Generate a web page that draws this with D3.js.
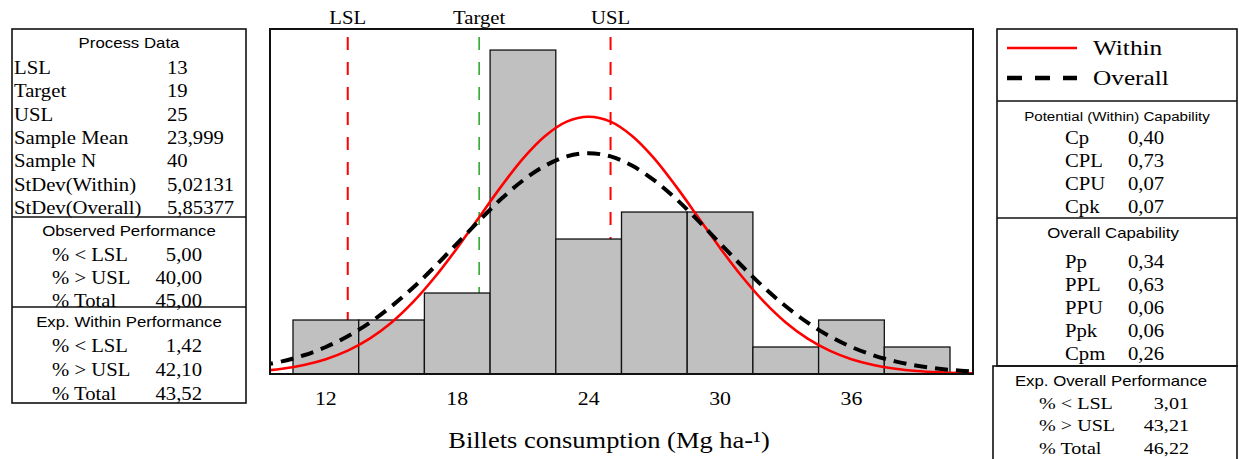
<!DOCTYPE html>
<html>
<head>
<meta charset="utf-8">
<script src="https://cdn.jsdelivr.net/npm/d3@7"></script>
<style>
  body { margin: 0; background: #fff; }
  .serif { font-family: "Liberation Serif", "Times New Roman", serif; fill: #000; }
  .sans { font-family: "Liberation Sans", Arial, sans-serif; fill: #000; }
</style>
</head>
<body>
<div id="chart"></div>
<script>
// histogram
const binEdges = [10.5, 13.5, 16.5, 19.5, 22.5, 25.5, 28.5, 31.5, 34.5, 37.5, 40.5];
const counts = [2, 2, 3, 12, 5, 6, 6, 1, 2, 1];
const xTicks = [12, 18, 24, 30, 36];

// spec limits
const specNames = ["LSL", "Target", "USL"];
const specValues = [13, 19, 25];
const specColors = ["#ff0000", "#33a833", "#ff0000"];

// fitted curves (counts per bin)
const curveX = [9, 10, 11, 12, 13, 14, 15, 16, 17, 18, 19, 20, 21, 22, 23, 24, 25,
  26, 27, 28, 29, 30, 31, 32, 33, 34, 35, 36, 37, 38, 39, 40, 41, 42];
const withinFit = [0.11, 0.195, 0.334, 0.548, 0.866, 1.31, 1.91, 2.68, 3.61, 4.67, 5.81,
  6.94, 7.98, 8.81, 9.35, 9.53, 9.35, 8.81, 7.98, 6.94, 5.81, 4.67, 3.61, 2.68, 1.91,
  1.31, 0.866, 0.548, 0.334, 0.195, 0.11, 0.06, 0.031, 0.015];
const overallFit = [0.307, 0.468, 0.694, 1.0, 1.4, 1.9, 2.51, 3.21, 4.0, 4.84, 5.68,
  6.48, 7.17, 7.71, 8.06, 8.18, 8.06, 7.71, 7.17, 6.48, 5.68, 4.84, 4.0, 3.21, 2.51,
  1.9, 1.4, 1.0, 0.694, 0.468, 0.307, 0.195, 0.12, 0.07];

// side tables
const processLabels = ["LSL", "Target", "USL", "Sample Mean", "Sample N", "StDev(Within)", "StDev(Overall)"];
const processValues = ["13", "19", "25", "23,999", "40", "5,02131", "5,85377"];
const perfLabels = ["% < LSL", "% > USL", "% Total"];
const observedValues = ["5,00", "40,00", "45,00"];
const expWithinValues = ["1,42", "42,10", "43,52"];
const expOverallValues = ["3,01", "43,21", "46,22"];
const withinCapLabels = ["Cp", "CPL", "CPU", "Cpk"];
const withinCapValues = ["0,40", "0,73", "0,07", "0,07"];
const overallCapLabels = ["Pp", "PPL", "PPU", "Ppk", "Cpm"];
const overallCapValues = ["0,34", "0,63", "0,06", "0,06", "0,26"];
const legendNames = ["Within", "Overall"];

const W = 1239, H = 459;
const plot = {left: 270, top: 29, right: 973, bottom: 374};
const stretch = 1.15;

const svg = d3.select("#chart").append("svg").attr("width", W).attr("height", H);

const x = d3.scaleLinear().domain([9.45, 41.55]).range([plot.left, plot.right]);
const y = d3.scaleLinear().domain([0, 12.78]).range([plot.bottom, plot.top]);

// text helper, glyphs are a bit wider than normal in the source
function txt(g, px, py, s, cls, size, anchor, sx) {
  return g.append("text")
    .attr("class", cls)
    .attr("transform", "translate(" + px + "," + py + ") scale(" + (sx || stretch) + ",1)")
    .attr("text-anchor", anchor || "start")
    .style("font-size", size + "px")
    .text(s);
}

svg.append("clipPath").attr("id", "clip").append("rect")
  .attr("x", plot.left).attr("y", plot.top)
  .attr("width", plot.right - plot.left).attr("height", plot.bottom - plot.top);

// spec lines (behind the bars)
const specG = svg.append("g");
specValues.forEach(function(v, i) {
  specG.append("line")
    .attr("x1", x(v)).attr("x2", x(v))
    .attr("y1", plot.top + 8).attr("y2", plot.bottom)
    .attr("stroke", specColors[i])
    .attr("stroke-width", i == 1 ? 1.6 : 2)
    .attr("stroke-dasharray", "13,12");
  txt(svg, x(v), 24, specNames[i], "serif", 18, "middle");
});

// bars
svg.append("g").selectAll("rect").data(counts).enter().append("rect")
  .attr("x", function(d, i) { return x(binEdges[i]); })
  .attr("width", function(d, i) { return x(binEdges[i + 1]) - x(binEdges[i]); })
  .attr("y", function(d) { return y(d); })
  .attr("height", function(d) { return y(0) - y(d); })
  .attr("fill", "#c0c0c0")
  .attr("stroke", "#111")
  .attr("stroke-width", 1.3);

// curves
const line = d3.line().x(function(d) { return x(d[0]); }).y(function(d) { return y(d[1]); })
  .curve(d3.curveCatmullRom);
const curves = svg.append("g").attr("clip-path", "url(#clip)");
curves.append("path")
  .attr("d", line(curveX.map(function(v, i) { return [v, withinFit[i]]; })))
  .attr("fill", "none").attr("stroke", "#ff0000").attr("stroke-width", 2.6);
curves.append("path")
  .attr("d", line(curveX.map(function(v, i) { return [v, overallFit[i]]; })))
  .attr("fill", "none").attr("stroke", "#000").attr("stroke-width", 4)
  .attr("stroke-dasharray", "13,8");

// frame
svg.append("rect")
  .attr("x", plot.left).attr("y", plot.top)
  .attr("width", plot.right - plot.left).attr("height", plot.bottom - plot.top)
  .attr("fill", "none").attr("stroke", "#111").attr("stroke-width", 2);

// x axis labels (no tick marks in the source)
xTicks.forEach(function(t) {
  txt(svg, x(t), 405, t, "serif", 19, "middle");
});
txt(svg, 609, 448, "Billets consumption (Mg ha-¹)", "serif", 23, "middle");

// left panel
const left = svg.append("g");
left.append("rect").attr("x", 12).attr("y", 29).attr("width", 234).attr("height", 374)
  .attr("fill", "none").attr("stroke", "#111").attr("stroke-width", 1.6);
[217, 307].forEach(function(yy) {
  left.append("line").attr("x1", 12).attr("x2", 246).attr("y1", yy).attr("y2", yy)
    .attr("stroke", "#111").attr("stroke-width", 1.6);
});
txt(left, 129, 48, "Process Data", "sans", 14, "middle", 1.2);
processLabels.forEach(function(s, i) {
  const yy = 74 + i * 23.3;
  txt(left, 14, yy, s, "serif", 18, "start");
  txt(left, 167, yy, processValues[i], "serif", 18, "start");
});
txt(left, 129, 236, "Observed Performance", "sans", 14, "middle", 1.2);
perfLabels.forEach(function(s, i) {
  const yy = 261 + i * 23.2;
  txt(left, 52, yy, s, "serif", 18, "start");
  txt(left, 202, yy, observedValues[i], "serif", 18, "end");
});
txt(left, 129, 327, "Exp. Within Performance", "sans", 14, "middle", 1.2);
perfLabels.forEach(function(s, i) {
  const yy = 352 + i * 23.8;
  txt(left, 52, yy, s, "serif", 18, "start");
  txt(left, 202, yy, expWithinValues[i], "serif", 18, "end");
});

// right panel
const right = svg.append("g");
right.append("rect").attr("x", 997).attr("y", 29).attr("width", 240).attr("height", 337)
  .attr("fill", "none").attr("stroke", "#111").attr("stroke-width", 1.6);
[101, 218].forEach(function(yy) {
  right.append("line").attr("x1", 997).attr("x2", 1237).attr("y1", yy).attr("y2", yy)
    .attr("stroke", "#111").attr("stroke-width", 1.6);
});
right.append("rect").attr("x", 993).attr("y", 366).attr("width", 244).attr("height", 100)
  .attr("fill", "none").attr("stroke", "#111").attr("stroke-width", 1.6);

// legend
right.append("line").attr("x1", 1007).attr("x2", 1077).attr("y1", 48).attr("y2", 48)
  .attr("stroke", "#ff0000").attr("stroke-width", 2.6);
right.append("line").attr("x1", 1007).attr("x2", 1077).attr("y1", 78).attr("y2", 78)
  .attr("stroke", "#000").attr("stroke-width", 4.5).attr("stroke-dasharray", "15,13");
txt(right, 1093, 55, legendNames[0], "serif", 22, "start");
txt(right, 1093, 85, legendNames[1], "serif", 22, "start");

txt(right, 1117, 121, "Potential (Within) Capability", "sans", 13.5, "middle", 1.12);
withinCapLabels.forEach(function(s, i) {
  const yy = 144 + i * 23.1;
  txt(right, 1065, yy, s, "serif", 18, "start");
  txt(right, 1128, yy, withinCapValues[i], "serif", 18, "start");
});
txt(right, 1113, 238, "Overall Capability", "sans", 14, "middle", 1.2);
overallCapLabels.forEach(function(s, i) {
  const yy = 268 + i * 23.1;
  txt(right, 1065, yy, s, "serif", 18, "start");
  txt(right, 1128, yy, overallCapValues[i], "serif", 18, "start");
});
txt(right, 1111, 386, "Exp. Overall Performance", "sans", 14, "middle", 1.2);
perfLabels.forEach(function(s, i) {
  const yy = 409 + i * 22.3;
  txt(right, 1039, yy, s, "serif", 17.5, "start");
  txt(right, 1189, yy, expOverallValues[i], "serif", 17.5, "end");
});
</script>
</body>
</html>
